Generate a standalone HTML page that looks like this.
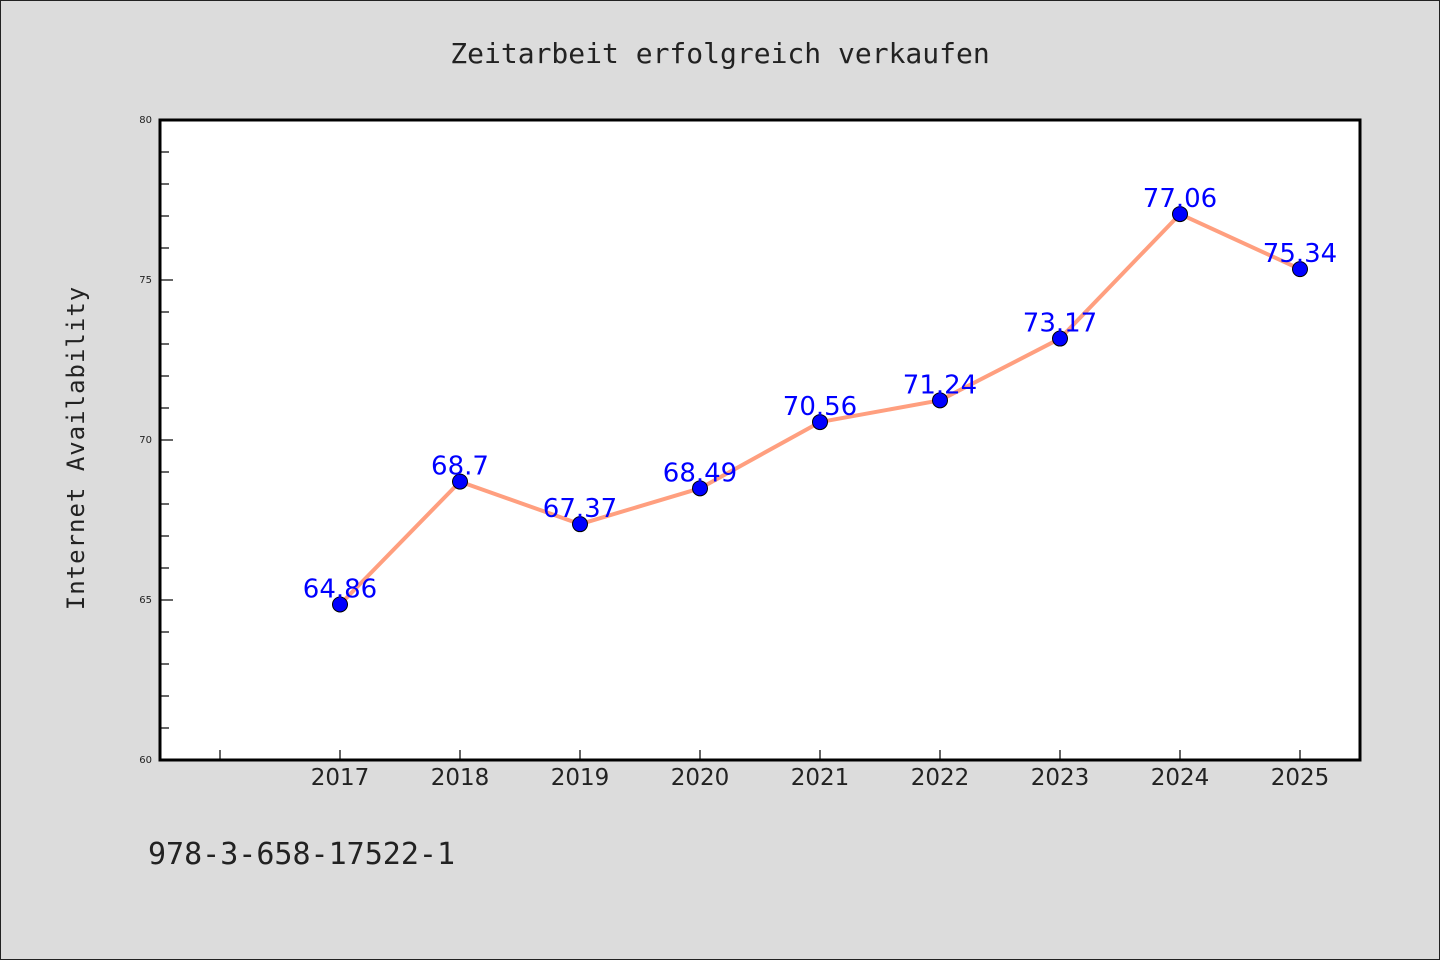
<!DOCTYPE html>
<html><head><meta charset="utf-8"><style>
html,body{margin:0;padding:0;background:#dcdcdc;}
svg{display:block;font-family:"DejaVu Sans","Liberation Sans",sans-serif;}
</style></head><body>
<svg id="chart" width="1440" height="960" viewBox="0 0 1440 960">
<rect x="0.5" y="0.5" width="1439" height="959" fill="#dcdcdc" stroke="#222" stroke-width="1"/>
<text x="720" y="63" text-anchor="middle" font-size="28" fill="#222" font-family="DejaVu Sans Mono,Liberation Mono,monospace">Zeitarbeit erfolgreich verkaufen</text>
<rect x="160" y="120" width="1200" height="640" fill="#fff"/>
<g id="ticks"></g>
<g id="series"></g>
<rect x="160" y="120" width="1200" height="640" fill="none" stroke="#000" stroke-width="3"/>
<text transform="translate(84,448) rotate(-90)" text-anchor="middle" font-size="24" fill="#222" font-family="DejaVu Sans Mono,Liberation Mono,monospace" letter-spacing="1">Internet Availability</text>
<text x="148" y="864" font-size="30" fill="#222" font-family="DejaVu Sans Mono,Liberation Mono,monospace">978-3-658-17522-1</text>
</svg>
<script>
const years = [2017,2018,2019,2020,2021,2022,2023,2024,2025];
const values = [64.86,68.7,67.37,68.49,70.56,71.24,73.17,77.06,75.34];
const valueLabels = ["64.86","68.7","67.37","68.49","70.56","71.24","73.17","77.06","75.34"];
const yTicks = [60,65,70,75,80];
const NS="http://www.w3.org/2000/svg";
const X0=160,X1=1360,Y0=760,Y1=120,xMin=2015.5,xMax=2025.5,yMin=60,yMax=80;
const xs=v=>X0+(v-xMin)/(xMax-xMin)*(X1-X0);
const ys=v=>Y0-(v-yMin)/(yMax-yMin)*(Y0-Y1);
function mk(tag,attrs,parent){const e=document.createElementNS(NS,tag);for(const k in attrs)e.setAttribute(k,attrs[k]);parent.appendChild(e);return e;}
const tg=document.getElementById('ticks');
for(let v=yMin;v<=yMax;v++){
  const major=yTicks.includes(v);
  const l=mk('line',{x1:X0,x2:X0+(major?13:9),y1:ys(v),y2:ys(v),stroke:'#000','stroke-width':1.2},tg);
  
  
}
yTicks.forEach(v=>{
  const t=mk('text',{x:X0-8,y:ys(v)+3,'text-anchor':'end','font-size':10,fill:'#222'},tg);
  t.textContent=v;
  
  
});
for(let yr=Math.ceil(xMin);yr<=xMax;yr++){
  const l=mk('line',{x1:xs(yr),x2:xs(yr),y1:Y0,y2:Y0-10,stroke:'#000','stroke-width':1.2},tg);
  
  
}
years.forEach(yr=>{
  const t=mk('text',{x:xs(yr),y:Y0+25,'text-anchor':'middle','font-size':23,fill:'#222'},tg);
  t.textContent=yr;
  
  
});
const sg=document.getElementById('series');
const pts=years.map((yr,i)=>xs(yr)+','+ys(values[i])).join(' ');
const pl=mk('polyline',{points:pts,fill:'none',stroke:'#ff9f7f','stroke-width':4,'stroke-linejoin':'round'},sg);


years.forEach((yr,i)=>{
  const c=mk('circle',{cx:xs(yr),cy:ys(values[i]),r:7.5,fill:'#0000ff',stroke:'#000','stroke-width':1},sg);
  
  
});
years.forEach((yr,i)=>{
  const t=mk('text',{x:xs(yr),y:ys(values[i])-7,'text-anchor':'middle','font-size':26,fill:'#0000ff'},sg);
  t.textContent=valueLabels[i];
  
  
});
</script>
</body></html>
